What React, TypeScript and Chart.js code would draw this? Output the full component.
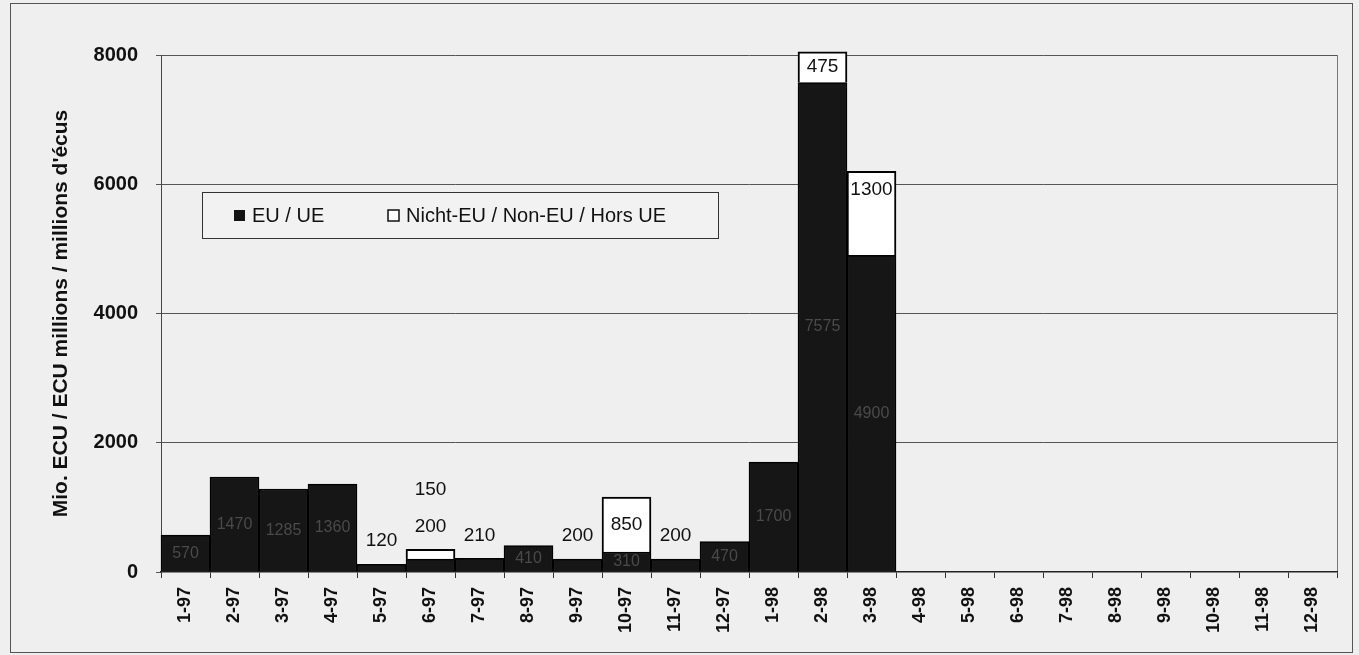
import React, { useEffect, useRef } from "react";
import { Chart, registerables } from "chart.js";

Chart.register(...registerables);

const categories = [
  "1-97", "2-97", "3-97", "4-97", "5-97", "6-97", "7-97", "8-97", "9-97", "10-97", "11-97", "12-97",
  "1-98", "2-98", "3-98", "4-98", "5-98", "6-98", "7-98", "8-98", "9-98", "10-98", "11-98", "12-98",
];
const euValues: (number | null)[] = [
  570, 1470, 1285, 1360, 120, 200, 210, 410, 200, 310, 200, 470,
  1700, 7575, 4900, null, null, null, null, null, null, null, null, null,
];
const nonEuValues: (number | null)[] = [
  0, 0, 0, 0, 0, 150, 0, 0, 0, 850, 0, 0,
  0, 475, 1300, null, null, null, null, null, null, null, null, null,
];
const yTicks = [0, 2000, 4000, 6000, 8000];
const euLabel = "EU / UE";
const nonEuLabel = "Nicht-EU / Non-EU / Hors UE";
const yTitle = "Mio. ECU / ECU millions / millions d'écus";

const FONT = '"Liberation Sans", Arial, sans-serif';

const backgroundPlugin = {
  id: "bgFrame",
  beforeDraw(chart: any) {
    const { ctx, width, height, chartArea } = chart;
    ctx.save();
    ctx.fillStyle = "#efefef";
    ctx.fillRect(0, 0, width, height);
    ctx.strokeStyle = "#555";
    ctx.lineWidth = 1;
    ctx.strokeRect(10.5, 3.5, width - 17, height - 6);
    ctx.strokeStyle = "#777";
    ctx.beginPath();
    ctx.moveTo(chartArea.right + 0.5, chartArea.top);
    ctx.lineTo(chartArea.right + 0.5, chartArea.bottom);
    ctx.stroke();
    ctx.restore();
  },
};

const labelPlugin = {
  id: "valueLabels",
  afterDatasetsDraw(chart: any) {
    const ctx = chart.ctx;
    const eu = chart.getDatasetMeta(0);
    const non = chart.getDatasetMeta(1);
    const big = `19px ${FONT}`;
    const dim = `16px ${FONT}`;
    ctx.save();
    ctx.textAlign = "center";
    ctx.textBaseline = "middle";
    categories.forEach((_c, i) => {
      const ev = euValues[i];
      const nv = nonEuValues[i];
      if (ev == null) return;
      const e = eu.data[i];
      const n = non.data[i];
      const stackTop = nv ? n.y : e.y;
      let above = 0;
      const eh = e.base - e.y;
      if (eh < 16) {
        ctx.font = big;
        ctx.fillStyle = "#111";
        ctx.fillText(String(ev), e.x, stackTop - 23 - above * 37);
        above++;
      } else {
        ctx.font = dim;
        ctx.fillStyle = "#4a4a4a";
        ctx.fillText(String(ev), e.x, (e.y + e.base) / 2);
      }
      if (nv) {
        const nh = n.base - n.y;
        ctx.font = big;
        ctx.fillStyle = "#111";
        if (nh < 16) {
          ctx.fillText(String(nv), n.x, stackTop - 23 - above * 37);
          above++;
        } else if (nh < 60) {
          ctx.fillText(String(nv), n.x, (n.y + n.base) / 2);
        } else {
          ctx.fillText(String(nv), n.x, n.y + 18);
        }
      }
    });
    ctx.restore();
  },
};

const legendPlugin = {
  id: "boxLegend",
  afterDraw(chart: any) {
    const { ctx, chartArea } = chart;
    ctx.save();
    ctx.translate(61, (chartArea.top + chartArea.bottom) / 2);
    ctx.rotate(-Math.PI / 2);
    ctx.font = `bold 21px ${FONT}`;
    ctx.fillStyle = "#111";
    ctx.textAlign = "center";
    ctx.textBaseline = "middle";
    ctx.fillText(yTitle, 0, 0);
    ctx.restore();

    const x0 = chartArea.left + 41;
    const y0 = 192;
    const w = 516;
    const h = 46;
    ctx.save();
    ctx.fillStyle = "#f2f2f2";
    ctx.fillRect(x0, y0, w, h);
    ctx.strokeStyle = "#333";
    ctx.lineWidth = 1;
    ctx.strokeRect(x0 + 0.5, y0 + 0.5, w, h);
    const cy = y0 + h / 2;
    ctx.fillStyle = "#141414";
    ctx.fillRect(x0 + 32, cy - 5, 11, 11);
    ctx.font = `20px ${FONT}`;
    ctx.textBaseline = "middle";
    ctx.textAlign = "left";
    ctx.fillStyle = "#111";
    ctx.fillText(euLabel, x0 + 50, cy + 1);
    ctx.fillStyle = "#fff";
    ctx.fillRect(x0 + 186, cy - 5, 11, 11);
    ctx.strokeStyle = "#111";
    ctx.lineWidth = 1.5;
    ctx.strokeRect(x0 + 186, cy - 5, 11, 11);
    ctx.fillStyle = "#111";
    ctx.fillText(nonEuLabel, x0 + 204, cy + 1);
    ctx.restore();
  },
};

export default function App() {
  const ref = useRef<HTMLCanvasElement | null>(null);
  useEffect(() => {
    document.body.style.margin = "0";
    if (!ref.current) return;
    const chart = new Chart(ref.current, {
      type: "bar",
      data: {
        labels: categories,
        datasets: [
          {
            label: euLabel,
            data: euValues,
            backgroundColor: "#161616",
            borderColor: "#000",
            borderWidth: 1.5,
            stack: "s",
            clip: false,
          },
          {
            label: nonEuLabel,
            data: nonEuValues,
            backgroundColor: "#ffffff",
            borderColor: "#000",
            borderWidth: 2,
            stack: "s",
            clip: false,
          },
        ],
      },
      options: {
        animation: false,
        responsive: false,
        maintainAspectRatio: false,
        layout: { padding: { left: 10, right: 22, top: 55, bottom: 10 } },
        datasets: { bar: { categoryPercentage: 1, barPercentage: 1 } },
        plugins: {
          legend: { display: false },
          tooltip: { enabled: false },
        },
        scales: {
          x: {
            stacked: true,
            offset: true,
            grid: {
              display: true,
              drawOnChartArea: false,
              offset: true,
              tickLength: 6,
              color: "#333",
            },
            border: { display: true, color: "#222", width: 1.5 },
            ticks: {
              minRotation: 90,
              maxRotation: 90,
              autoSkip: false,
              padding: 9,
              color: "#111",
              font: { family: FONT, size: 18, weight: "bold" },
            },
            afterFit: (s: any) => {
              s.height = 73;
            },
          },
          y: {
            stacked: true,
            min: 0,
            max: 8000,
            afterBuildTicks: (s: any) => {
              s.ticks = yTicks.map((v) => ({ value: v }));
            },
            grid: {
              color: (c: any) => (c.tick && c.tick.value === 0 ? "rgba(0,0,0,0)" : "#555"),
              tickColor: "#555",
              tickLength: 5,
              lineWidth: 1,
            },
            border: { display: true, color: "#444", width: 1 },
            ticks: {
              padding: 18,
              color: "#111",
              font: { family: FONT, size: 20, weight: "bold" },
              callback: (v: any) => String(v),
            },
            title: { display: false },
            afterFit: (s: any) => {
              s.width = 151;
            },
          },
        },
      },
      plugins: [backgroundPlugin, labelPlugin, legendPlugin],
    } as any);
    return () => chart.destroy();
  }, []);
  return (
    <div style={{ width: 1359, height: 655 }}>
      <canvas ref={ref} width={1359} height={655} style={{ display: "block" }} />
    </div>
  );
}
